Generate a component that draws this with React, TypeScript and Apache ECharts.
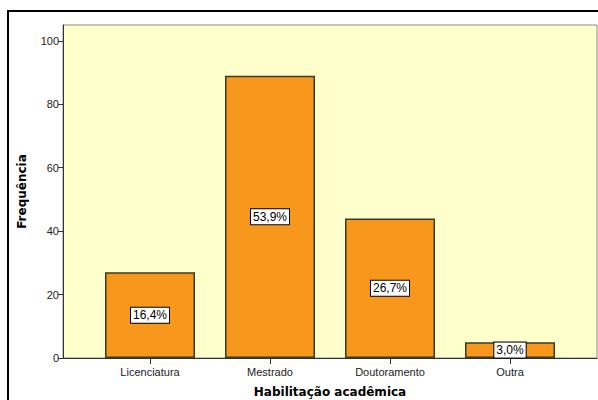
import React, { useEffect, useRef } from "react";
import * as echarts from "echarts";

const categories = ["Licenciatura", "Mestrado", "Doutoramento", "Outra"];
const frequencies = [27, 89, 44, 5];
const yTicks = [0, 20, 40, 60, 80, 100];
const yMax = 105;

const total = frequencies.reduce((a, b) => a + b, 0);
const fmtPct = (v: number) => ((v / total) * 100).toFixed(1).replace(".", ",") + "%";

export default function App() {
  const ref = useRef<HTMLDivElement>(null);
  useEffect(() => {
    if (!ref.current) return;
    const chart = echarts.init(ref.current, undefined, { renderer: "svg" });
    const font = "Arial, 'Liberation Sans', sans-serif";
    const titleFont = "'DejaVu Sans', Verdana, sans-serif";
    chart.setOption({
      animation: false,
      textStyle: { fontFamily: font },
      graphic: [
        {
          type: "rect",
          shape: { x: 8, y: 11, width: 700, height: 500 },
          style: { fill: "none", stroke: "#000", lineWidth: 2 },
          z: 0,
        },
      ],
      grid: [
        {
          left: 63,
          right: 1,
          top: 25,
          bottom: 42,
          show: true,
          backgroundColor: "#FFFFCC",
          borderColor: "#8a8a8a",
          borderWidth: 1,
          outerBoundsMode: "none",
          containLabel: false,
        },
        { left: 90, right: 28, top: 25, bottom: 42, outerBoundsMode: "none", containLabel: false },
      ],
      xAxis: [
        {
          gridIndex: 0,
          type: "value",
          min: 0,
          max: 1,
          axisLine: { show: true, lineStyle: { color: "#333", width: 1 } },
          axisTick: { show: false },
          axisLabel: { show: false },
          splitLine: { show: false },
          name: "Habilitação acadêmica",
          nameLocation: "middle",
          nameGap: 28,
          nameTextStyle: { fontSize: 12, fontWeight: "bold", color: "#000", fontFamily: titleFont },
        },
        {
          gridIndex: 1,
          type: "category",
          data: categories,
          axisLine: { show: false },
          axisTick: { show: true, alignWithLabel: true, length: 6, lineStyle: { color: "#333" } },
          axisLabel: { fontSize: 11, color: "#222", margin: 8, fontFamily: font },
          splitLine: { show: false },
        },
      ],
      yAxis: [
        {
          gridIndex: 0,
          type: "value",
          min: 0,
          max: yMax,
          axisLine: { show: true, lineStyle: { color: "#333", width: 1 } },
          axisTick: { show: true, length: 5, customValues: yTicks, lineStyle: { color: "#333" } },
          axisLabel: { fontSize: 11, color: "#222", margin: 4, customValues: yTicks, fontFamily: font },
          splitLine: { show: false },
          name: "Frequência",
          nameLocation: "middle",
          nameGap: 35,
          nameTextStyle: { fontSize: 12, fontWeight: "bold", color: "#000", fontFamily: titleFont },
        },
        { gridIndex: 1, type: "value", min: 0, max: yMax, show: false },
      ],
      series: [
        {
          type: "bar",
          xAxisIndex: 1,
          yAxisIndex: 1,
          data: frequencies,
          barWidth: 90,
          itemStyle: { color: "#F7981D", borderColor: "#3a3a2a", borderWidth: 1.5 },
          label: {
            show: true,
            position: "inside",
            formatter: (p: any) => fmtPct(p.value),
            backgroundColor: "#fff",
            borderColor: "#000",
            borderWidth: 1,
            padding: [2, 2, 1, 2],
            fontSize: 12,
            color: "#000",
            fontFamily: font,
          },
        },
      ],
    });
    return () => chart.dispose();
  }, []);
  return (
    <div
      ref={ref}
      style={{ position: "fixed", left: 0, top: 0, width: 598, height: 400, background: "#fff" }}
    />
  );
}
